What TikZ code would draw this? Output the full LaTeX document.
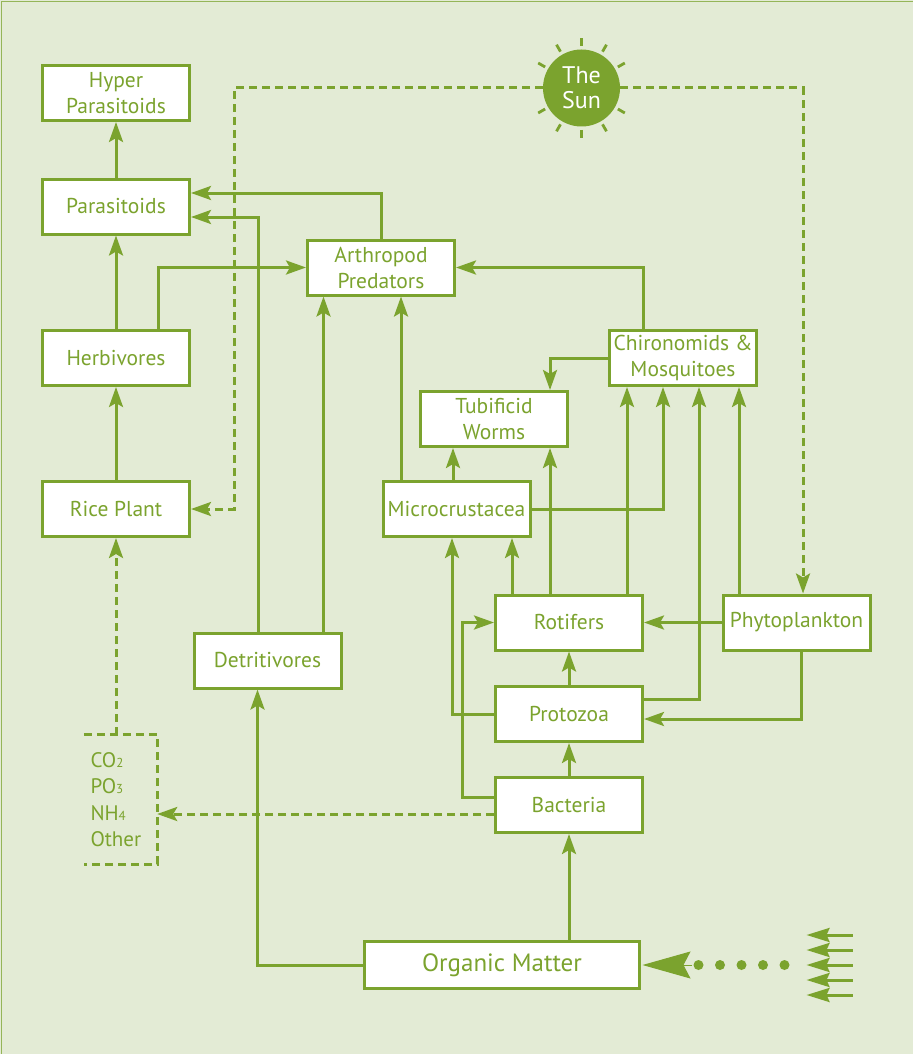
\documentclass[tikz,border=0pt]{standalone}
\usepackage{fontspec}
\setmainfont{PT Sans}
\usetikzlibrary{arrows.meta,shapes}
\definecolor{leaf}{HTML}{7BA32E}
\definecolor{paddy}{HTML}{E3EBD5}

\begin{document}
\begin{tikzpicture}[x=1pt,y=-1pt]
		\tikzset{box/.style={draw=leaf,fill=white,line width=3pt,minimum width=147pt,minimum height=55pt,inner sep=0pt,align=center,text=leaf,font=\fontsize{21.5}{26}\selectfont}}
		\tikzset{link/.style={draw=leaf,line width=3pt,-{Stealth[length=20pt,width=14pt,inset=4pt]}}}
		\tikzset{flow/.style={link,dash pattern=on 8pt off 5pt}}
		\useasboundingbox (0,0) rectangle (913,1054);
		\fill [paddy] (0,0) rectangle (913,1054);
		\draw [leaf!80,line width=1.5pt] (1.5,1054) -- (1.5,1.5) -- (913,1.5);
		\node [box] (hyper) at (116,93) {Hyper\\Parasitoids};
		\node [box] (para) at (116,206.5) {Parasitoids};
		\node [box] (herb) at (116,358) {Herbivores};
		\node [box] (rice) at (116,509) {Rice Plant};
		\node [box] (arth) at (381,267.5) {Arthropod\\Predators};
		\node [box] (chiro) at (683,358) {Chironomids \&\\Mosquitoes};
		\node [box] (tubi) at (494,419) {Tubificid\\Worms};
		\node [box] (micro) at (456.5,509) {Microcrustacea};
		\node [box] (roti) at (569,622.5) {Rotifers};
		\node [box] (proto) at (569,714) {Protozoa};
		\node [box] (bact) at (569,805) {Bacteria};
		\node [box] (phyto) at (796.5,622.5) {Phytoplankton};
		\node [box] (detri) at (267.5,660.5) {Detritivores};
		\node [box,minimum width=275pt,minimum height=47pt,font=\fontsize{25}{28}\selectfont] (organic) at (502,965) {Organic Matter};
		\node [circle,fill=leaf,minimum size=77pt,inner sep=0pt,align=center,text=white,font=\fontsize{24}{25}\selectfont] (sun) at (581.5,88) {The\\Sun};
		\foreach \a in {30,60,...,150,210,240,...,330}
			\draw [leaf,line width=2.8pt] ([shift={(\a:42pt)}]sun.center) -- ([shift={(\a:50pt)}]sun.center);
		\node [minimum width=73pt,minimum height=129pt,inner sep=0pt,text width=60pt,align=left,text=leaf,font=\fontsize{21}{26.3}\selectfont] (nutri) at (120.5,799.5) {CO{\fontsize{13}{13}\selectfont 2}\\PO{\fontsize{13}{13}\selectfont 3}\\NH{\fontsize{13}{13}\selectfont 4}\\Other};
		\draw [leaf,line width=3pt,dash pattern=on 8pt off 5pt] (nutri.north west) -- (nutri.north east) -- (nutri.south east) -- (nutri.south west);
		\draw [link] (para) -- (hyper);
		\draw [link] (herb) -- (para);
		\draw [link] (rice) -- (herb);
		\draw [link] ([xshift=42pt]herb.north) |- (arth.west);
		\draw [link] (arth.north) |- ([yshift=13.5pt]para.east);
		\draw [link] ([xshift=-9.5pt]detri.north) |- ([yshift=-10.5pt]para.east);
		\draw [link] ([xshift=56pt]detri.north) -- ([xshift=56pt]detri.north |- arth.south);
		\draw [link] ([xshift=-55.5pt]micro.north) -- ([xshift=-55.5pt]micro.north |- arth.south);
		\draw [link] ([xshift=-40pt]chiro.north) |- (arth.east);
		\draw [link] (chiro.west) -| ([xshift=56pt]tubi.north);
		\draw [link] ([xshift=-3.5pt]micro.north) -- ([xshift=-3.5pt]micro.north |- tubi.south);
		\draw [link] ([xshift=-19pt]roti.north) -- ([xshift=-19pt]roti.north |- tubi.south);
		\draw [link] (micro.east) -| ([xshift=-20pt]chiro.south);
		\draw [link] ([xshift=58pt]roti.north) -- ([xshift=58pt]roti.north |- chiro.south);
		\draw [link] ([yshift=15pt]proto.east) -| ([xshift=16pt]chiro.south);
		\draw [link] ([xshift=-57.5pt]phyto.north) -- ([xshift=-57.5pt]phyto.north |- chiro.south);
		\draw [link] ([xshift=-57pt]roti.north) -- ([xshift=-57pt]roti.north |- micro.south);
		\draw [link] (proto.west) -| ([xshift=-4.5pt]micro.south);
		\draw [link] ([yshift=8pt]bact.west) -| ([xshift=-32pt]roti.west) -- (roti.west);
		\draw [link] (phyto.west) -- (roti.east);
		\draw [link] ([xshift=4.5pt]phyto.south) |- ([yshift=-5pt]proto.east);
		\draw [link] (proto) -- (roti);
		\draw [link] (bact) -- (proto);
		\draw [link] (bact.south |- organic.north) -- (bact.south);
		\draw [link] (organic.west) -| ([xshift=-10pt]detri.south);
		\draw [flow] ([yshift=-9pt]bact.west) -- ([yshift=-9pt]bact.west -| nutri.east);
		\draw [flow] ([xshift=-4.5pt]nutri.north) -- ([xshift=-4.5pt]nutri.north |- rice.south);
		\draw [flow] (sun.west) -| ([xshift=43pt]rice.east) -- (rice.east);
		\draw [flow] (sun.east) -| ([xshift=6.5pt]phyto.north);
		\draw [leaf,line width=1pt,-{Stealth[length=48pt,width=27pt,inset=7pt]}] ([xshift=51pt]organic.east) -- ([xshift=1.5pt]organic.east);
		\foreach \i in {0,...,4}
			\fill [leaf] ([xshift={(57.5+21.5*\i)*1pt}]organic.east) circle (5pt);
		\foreach \k in {-30,-15,0,15,30}
			\draw [leaf,line width=3pt,-{Stealth[length=23pt,width=14pt,inset=3pt]}] ([xshift=211.5pt,yshift=\k pt]organic.east) -- ([xshift=165.5pt,yshift=\k pt]organic.east);
\end{tikzpicture}
\end{document}
